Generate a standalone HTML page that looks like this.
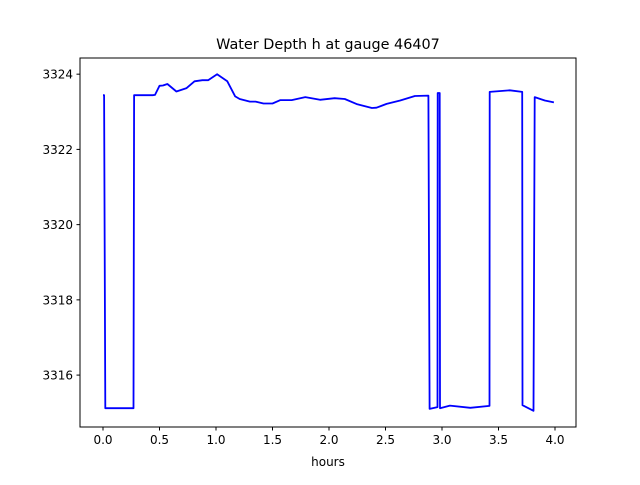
<!DOCTYPE html>
<html><head><meta charset="utf-8"><style>
body{margin:0;background:#fff;}
text{font-family:"DejaVu Sans","Liberation Sans",sans-serif;}
</style></head><body>
<svg id="chart" width="640" height="480" xmlns="http://www.w3.org/2000/svg">
<rect width="640" height="480" fill="#fff"/>
<text x="328" y="49" font-size="14.4" text-anchor="middle">Water Depth h at gauge 46407</text>
<g id="axes"></g>
<text x="328" y="466" font-size="12" text-anchor="middle">hours</text>
</svg>
<script>
const times=[0.0,0.01,0.02,0.27,0.275,0.44,0.46,0.50,0.53,0.57,0.65,0.74,0.81,0.88,0.93,1.01,1.10,1.17,1.21,1.30,1.35,1.42,1.50,1.57,1.67,1.79,1.92,2.05,2.14,2.25,2.38,2.42,2.51,2.63,2.76,2.88,2.89,2.96,2.962,2.98,2.982,3.07,3.25,3.42,3.422,3.60,3.71,3.712,3.81,3.82,3.91,3.99];
const depths=[3323.44,3323.44,3315.12,3315.12,3323.44,3323.44,3323.45,3323.69,3323.70,3323.74,3323.54,3323.63,3323.81,3323.84,3323.84,3324.00,3323.81,3323.41,3323.34,3323.27,3323.27,3323.22,3323.22,3323.31,3323.31,3323.39,3323.32,3323.36,3323.34,3323.20,3323.10,3323.11,3323.21,3323.30,3323.42,3323.43,3315.10,3315.15,3323.50,3323.50,3315.12,3315.19,3315.13,3315.18,3323.53,3323.57,3323.53,3315.20,3315.05,3323.39,3323.30,3323.25];
const xTicks=[0.0,0.5,1.0,1.5,2.0,2.5,3.0,3.5,4.0];
const xTickLabels=["0.0","0.5","1.0","1.5","2.0","2.5","3.0","3.5","4.0"];
const yTicks=[3316,3318,3320,3322,3324];
const yTickLabels=["3316","3318","3320","3322","3324"];
const L=80,R=576,T=58,B=427,y0=3314.62,y1=3324.43;
const X=v=>103+v*113;
const Y=v=>B-(v-y0)/(y1-y0)*(B-T);
const NS="http://www.w3.org/2000/svg";
const g=document.getElementById('axes');
function mk(tag,attrs){const e=document.createElementNS(NS,tag);for(const k in attrs)e.setAttribute(k,attrs[k]);g.appendChild(e);return e;}
const pts=times.map((t,i)=>X(t).toFixed(1)+","+Y(depths[i]).toFixed(1)).join(" ");
const line=mk('polyline',{points:pts,fill:'none',stroke:'#0000ff','stroke-width':1.8,'stroke-linejoin':'round'});


const frame=mk('rect',{x:L,y:T,width:R-L,height:B-T,fill:'none',stroke:'#000','stroke-width':1});


xTicks.forEach((v,i)=>{
 const tk=mk('line',{x1:X(v),x2:X(v),y1:B,y2:B+3.5,stroke:'#000'});
 
 
 const tx=mk('text',{x:X(v),y:B+17,'font-size':12,'text-anchor':'middle'});
 tx.textContent=xTickLabels[i];
 
 
});
yTicks.forEach((v,i)=>{
 const tk=mk('line',{x1:L-3.5,x2:L,y1:Y(v),y2:Y(v),stroke:'#000'});
 
 
 const tx=mk('text',{x:L-7,y:Y(v)+4.5,'font-size':12,'text-anchor':'end'});
 tx.textContent=yTickLabels[i];
 
 
});
</script>
</body></html>
